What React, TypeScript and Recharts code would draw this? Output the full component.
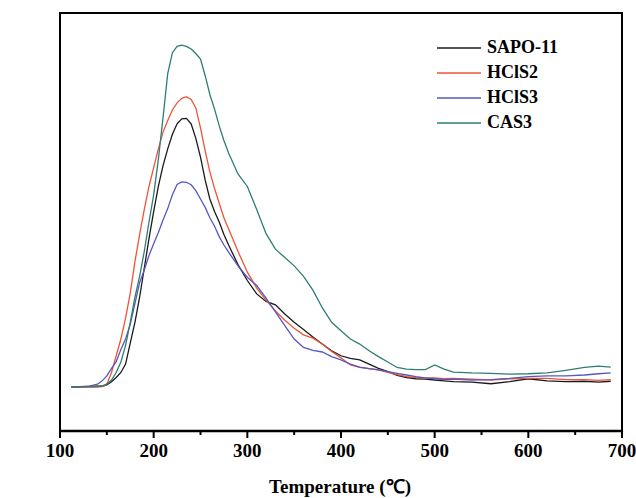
import { LineChart, Line, XAxis, YAxis, ReferenceArea } from "recharts";

const temps = [
  112, 130, 140, 145, 150, 155, 160, 165, 170, 175, 180, 185, 190, 195, 200, 205, 210, 215, 220, 225,
  230, 235, 240, 245, 250, 255, 260, 265, 270, 275, 280, 290, 300, 310, 320, 330, 340, 350, 360, 370,
  380, 390, 400, 410, 420, 430, 440, 450, 460, 470, 480, 490, 500, 510, 520, 540, 560, 580, 600, 620,
  640, 660, 675, 688,
];

const sapo11 = [
  10.5, 10.6, 10.7, 10.7, 11, 11.8, 12.8, 14, 16, 21, 26, 32, 39, 46, 52.5, 58.5, 63.5, 67.5, 71, 73.5,
  74.7, 74.8, 73.5, 70, 65.5, 60, 55.5, 52.5, 50, 47, 44.5, 39.8, 36, 32.8, 31, 30.2, 28, 26, 24.3, 22.5,
  20.8, 19.2, 18, 17.4, 17, 16, 15, 14.2, 13.3, 12.8, 12.5, 12.4, 12.2, 12, 11.8, 11.7, 11.3, 11.8, 12.5, 12,
  11.8, 11.9, 11.7, 11.9,
];

const hcls2 = [
  10.5, 10.5, 10.5, 10.6, 11.2, 14, 18, 22, 27, 33, 40.5, 47, 53, 58.5, 63, 67.5, 71.5, 74.3, 76.8, 78.5,
  79.6, 80, 79.3, 77.3, 72.5, 67, 62, 58, 54.5, 51, 48.3, 43, 38, 34.2, 31.3, 28.7, 26.5, 24.6, 23, 22.2,
  20.8, 19, 17.5, 15.8, 15.2, 14.9, 14.6, 14, 13.5, 13, 12.8, 12.7, 12.7, 12.5, 12.6, 12.4, 12.2, 12.5, 12.6, 12.6,
  12.3, 12.3, 12.1, 12.3,
];

const hcls3 = [
  10.5, 10.7, 11.2, 12, 13.2, 15, 16.6, 19.5, 22, 25.5, 30.5, 35.5, 38.5, 42, 44.8, 47.5, 50.5, 53.2, 56.5, 59,
  59.6, 59.5, 58.9, 57.5, 55.5, 53.5, 51, 49, 46.5, 44.5, 42.8, 39.5, 36.8, 34.8, 31.8, 28.5, 25.2, 22, 20, 19.3,
  18.9, 17.8, 17, 16, 15.3, 14.9, 14.6, 14.2, 13.8, 13.4, 13, 12.7, 12.5, 12.3, 12.4, 12.2, 12.3, 12.6, 13, 13.2,
  13.2, 13.4, 13.7, 13.9,
];

const cas3 = [
  10.5, 10.6, 10.7, 10.8, 11.2, 12.2, 14, 16.5, 20.5, 26, 32, 37, 43, 50, 56.5, 65, 75, 85.5, 90.5, 92,
  92.3, 92, 91.4, 90.3, 89, 85, 80.5, 77, 73, 69.5, 66.5, 61.5, 58.5, 53, 47.2, 43.5, 41.5, 39.5, 37, 33.7,
  29.5, 26, 24, 22, 20.8, 19.2, 17.8, 16.5, 15.2, 14.8, 14.7, 14.7, 15.8, 14.8, 14.1, 13.9, 13.8, 13.6, 13.7, 13.9,
  14.5, 15.2, 15.5, 15.3,
];

const xTicks = [100, 150, 200, 250, 300, 350, 400, 450, 500, 550, 600, 650, 700];

const series = [
  { key: "sapo11", name: "SAPO-11", color: "#1a1a1a" },
  { key: "hcls2", name: "HClS2", color: "#ec5538" },
  { key: "hcls3", name: "HClS3", color: "#5559c0" },
  { key: "cas3", name: "CAS3", color: "#2f7c74" },
];

const data = temps.map((t, i) => ({
  t,
  sapo11: sapo11[i],
  hcls2: hcls2[i],
  hcls3: hcls3[i],
  cas3: cas3[i],
}));

const FONT = "'Liberation Serif', 'Times New Roman', serif";

function TempTick({ x, y, payload }: any) {
  const major = payload.value % 100 === 0;
  return (
    <g>
      <line x1={x} x2={x} y1={y} y2={y + (major ? 7 : 4)} stroke="#000" strokeWidth={2} />
      {major && (
        <text x={x} y={y + 26} textAnchor="middle" fontFamily={FONT} fontWeight="bold" fontSize={19} fill="#000">
          {payload.value}
        </text>
      )}
    </g>
  );
}

function LegendBox() {
  return (
    <div
      style={{
        position: "absolute",
        top: 35,
        left: 437,
        fontFamily: FONT,
        fontWeight: "bold",
        fontSize: 18,
        color: "#000",
      }}
    >
      {series.map((s) => (
        <div key={s.key} style={{ display: "flex", alignItems: "center", height: 25 }}>
          <svg width={44} height={4} style={{ marginRight: 6 }}>
            <line x1={0} x2={44} y1={2} y2={2} stroke={s.color} strokeWidth={1.3} />
          </svg>
          <span>{s.name}</span>
        </div>
      ))}
    </div>
  );
}

export default function App() {
  return (
    <div style={{ position: "absolute", left: 0, top: 0, width: 636, height: 498, background: "#fff" }}>
      <LineChart width={636} height={498} data={data} margin={{ top: 13, right: 14, bottom: 27, left: 60 }}>
        <XAxis
          dataKey="t"
          type="number"
          domain={[100, 700]}
          ticks={xTicks}
          interval={0}
          height={40}
          tickSize={0}
          tickMargin={0}
          tickLine={false}
          axisLine={{ stroke: "#000", strokeWidth: 2.5 }}
          tick={<TempTick />}
          label={{
            content: () => (
              <text x={340} y={493} textAnchor="middle" fontFamily={FONT} fontWeight="bold" fontSize={19} fill="#000">
                Temperature (℃)
              </text>
            ),
          }}
        />
        <YAxis
          domain={[0, 100]}
          hide
          label={{
            content: () => (
              <text
                x={24}
                y={212}
                transform="rotate(-90 24 212)"
                textAnchor="middle"
                fontFamily={FONT}
                fontWeight="bold"
                fontSize={19}
                fill="#000"
              >
                Relative Intensity (a.u.)
              </text>
            ),
          }}
        />
        <ReferenceArea x1={100} x2={700} y1={0} y2={100} fill="none" stroke="#000" strokeWidth={2} />
        {series.map((s) => (
          <Line
            key={s.key}
            dataKey={s.key}
            name={s.name}
            type="linear"
            stroke={s.color}
            strokeWidth={1.3}
            dot={false}
            isAnimationActive={false}
          />
        ))}
      </LineChart>
      <LegendBox />
    </div>
  );
}
